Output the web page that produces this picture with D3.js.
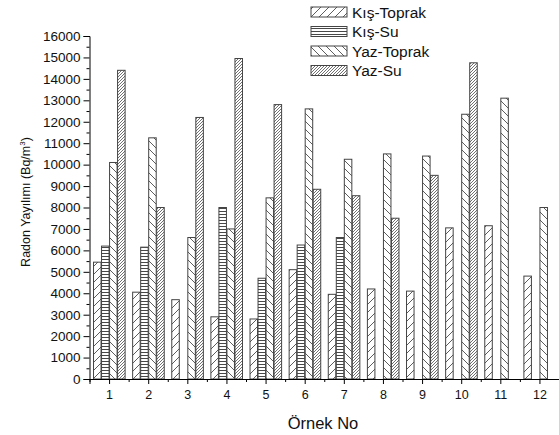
<!DOCTYPE html>
<html><head><meta charset="utf-8">
<script src="https://cdn.jsdelivr.net/npm/d3@7"></script>
<style>body{margin:0;background:#fff}svg{display:block;font-family:"Liberation Sans",Arial,sans-serif}</style>
</head><body>
<svg id="c" width="559" height="435"></svg>
<script>
const categories = [1,2,3,4,5,6,7,8,9,10,11,12];
const seriesNames = ["Kış-Toprak","Kış-Su","Yaz-Toprak","Yaz-Su"];
const kisToprak = [5450,4050,3700,2900,2800,5100,3950,4200,4100,7050,7150,4800];
const kisSu     = [6200,6150,null,8000,4700,6250,6600,null,null,null,null,null];
const yazToprak = [10100,11250,6600,7000,8450,12600,10250,10500,10400,12350,13100,8000];
const yazSu     = [14400,8000,12200,14950,12800,8850,8550,7500,9500,14750,null,null];
const yTicks = d3.range(0,16001,1000);
const yMinor = d3.range(500,16000,1000);
const xMinor = d3.range(0.5,12.6,1);
const seriesValues = [kisToprak,kisSu,yazToprak,yazSu];
const patternIds = ["pKT","pKS","pYT","pYS"];

const svg = d3.select("#c");
const defs = svg.append("defs");
function pat(id,size,d,w){
  const p = defs.append("pattern").attr("id",id).attr("patternUnits","userSpaceOnUse")
    .attr("width",size).attr("height",size);
  p.append("rect").attr("width",size).attr("height",size).attr("fill","#fff");
  p.append("path").attr("d",d).attr("stroke","#333").attr("stroke-width",w).attr("fill","none");
}
pat("pKT",8,"M0,8L8,0M-2,2L2,-2M6,10L10,6",0.8);
pat("pKS",3,"M-1,1.5L4,1.5",0.9);
pat("pYT",8,"M0,0L8,8M-2,6L2,10M6,-2L10,2",0.8);
pat("pYS",3,"M0,3L3,0M-1,1L1,-1M2,4L4,2",0.7);

const x = d3.scaleLinear().domain([0.5,12.5]).range([89.5,559]);
const y = d3.scaleLinear().domain([0,16000]).range([379,36]);
const groupW = (x(2)-x(1))*0.82;
const inner = d3.scaleBand().domain(seriesNames).range([-groupW/2,groupW/2]);

seriesNames.forEach((s,si)=>{
  const data = categories.map((c,i)=>({c,v:seriesValues[si][i]})).filter(d=>d.v!=null);
  svg.append("g").selectAll("rect").data(data).join("rect")
    .attr("x",d=>x(d.c)+inner(s)+0.5)
    .attr("y",d=>y(d.v))
    .attr("width",inner.bandwidth()-0.5)
    .attr("height",d=>y(0)-y(d.v))
    .attr("fill",`url(#${patternIds[si]})`)
    .attr("stroke","#444").attr("stroke-width",1);
});

// y axis
const ya = svg.append("g").attr("transform",`translate(${x(0.5)},0)`)
  .call(d3.axisLeft(y).tickValues(yTicks).tickSize(6).tickPadding(3).tickFormat(d3.format("d")));
ya.selectAll(".tick text").attr("font-size",13.5);
svg.append("g").attr("transform",`translate(${x(0.5)},0)`)
  .call(d3.axisLeft(y).tickValues(yMinor).tickSize(3).tickFormat(""))
  .select(".domain").remove();
// x axis
const xa = svg.append("g").attr("transform",`translate(0,${y(0)})`)
  .call(d3.axisBottom(x).tickValues(categories).tickSize(5).tickPadding(6).tickFormat(d3.format("d")));
xa.selectAll(".tick text").attr("font-size",12.5);
svg.append("g").attr("transform",`translate(0,${y(0)})`)
  .call(d3.axisBottom(x).tickValues(xMinor).tickSize(3).tickFormat(""))
  .select(".domain").remove();
svg.selectAll(".tick text").attr("fill","#111").attr("font-family","Liberation Sans, Arial, sans-serif");
svg.selectAll(".domain,.tick line").attr("stroke","#000");

// axis titles
svg.append("text").attr("x",323).attr("y",429).attr("text-anchor","middle")
  .attr("font-size",16.5).attr("fill","#111").text("Örnek No");
const yl = svg.append("text").attr("transform","translate(30,202) rotate(-90)")
  .attr("text-anchor","middle").attr("font-size",12.5).attr("fill","#111");
yl.append("tspan").text("Radon Yayılımı (Bq/m");
yl.append("tspan").attr("font-size",8).attr("dy",-5).text("3");
yl.append("tspan").attr("dy",5).text(")");

// legend
const lg = svg.append("g");
seriesNames.forEach((s,i)=>{
  const yy = 7 + i*19.5;
  lg.append("rect").attr("x",311).attr("y",yy).attr("width",36).attr("height",10)
    .attr("fill",`url(#${patternIds[i]})`).attr("stroke","#444");
  lg.append("text").attr("x",352).attr("y",yy+10.5).attr("font-size",15.5).attr("fill","#111").text(s);
});
</script>
</body></html>
